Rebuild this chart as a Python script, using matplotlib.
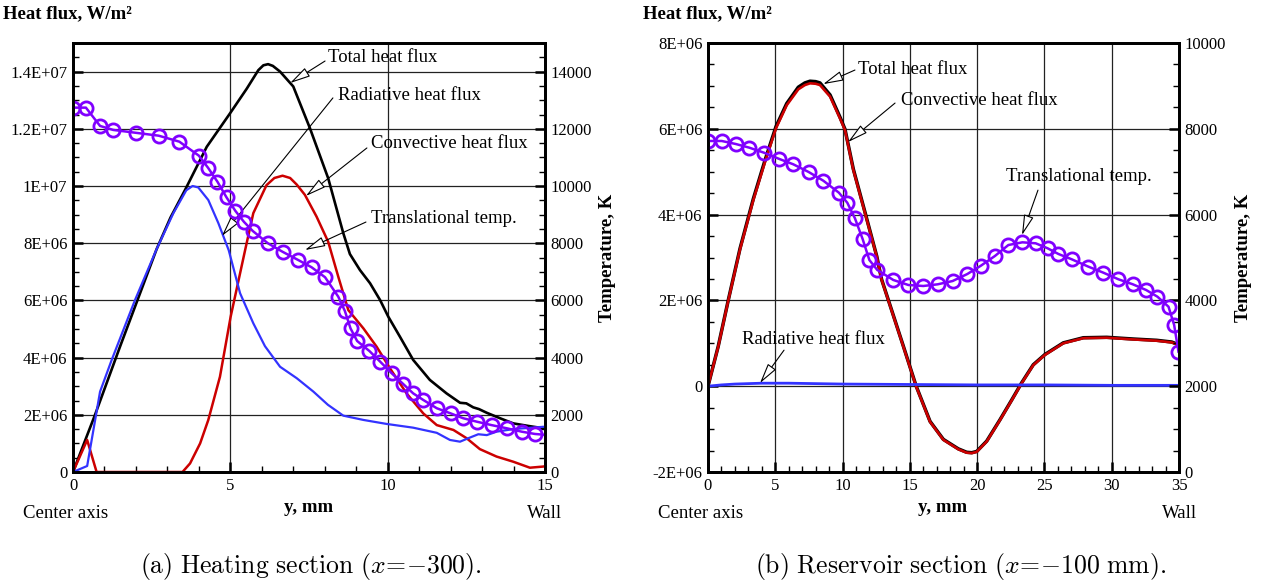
import matplotlib
matplotlib.use("Agg")
import matplotlib.pyplot as plt
from matplotlib.ticker import MultipleLocator

plt.rcParams['font.family'] = ['Liberation Serif', 'DejaVu Serif']
plt.rcParams['mathtext.fontset'] = 'cm'

# ---------------- (a) Heating section ----------------
a_total_y = [0, 0.7, 1.5, 2.66, 3.1, 3.56, 4.25, 4.99, 5.52, 5.89, 6.05, 6.2, 6.35, 6.58, 7.0,
             7.53, 8.11, 8.59, 8.8, 9.12, 9.44, 9.76, 10.02, 10.39, 10.81, 11.34, 11.87, 12.30,
             12.5, 12.72, 12.9, 13.15, 13.57, 13.99, 14.47, 14.94, 15.0]
a_total_q = [0, 2.0e6, 4.4e6, 7.8e6, 8.9e6, 9.86e6, 11.37e6, 12.54e6, 13.4e6, 14.05e6, 14.22e6,
             14.26e6, 14.2e6, 14.0e6, 13.48e6, 12.02e6, 10.27e6, 8.35e6, 7.62e6, 7.06e6, 6.6e6,
             6.01e6, 5.43e6, 4.73e6, 3.92e6, 3.22e6, 2.75e6, 2.42e6, 2.40e6, 2.26e6, 2.20e6,
             2.07e6, 1.88e6, 1.70e6, 1.61e6, 1.53e6, 1.52e6]

a_rad_y = [0, 0.45, 0.86, 1.23, 1.97, 2.66, 3.19, 3.6, 3.8, 3.98, 4.30, 4.62, 4.95, 5.31, 5.73,
           6.1, 6.58, 7.11, 7.64, 8.1, 8.59, 9.23, 9.97, 10.81, 11.56, 11.98, 12.30, 12.56,
           12.88, 13.15, 13.46, 13.99, 14.94, 15.0]
a_rad_q = [0, 0.21e6, 2.81e6, 3.92e6, 6.01e6, 7.8e6, 9.05e6, 9.85e6, 10.0e6, 9.95e6, 9.51e6,
           8.70e6, 7.75e6, 6.25e6, 5.2e6, 4.4e6, 3.68e6, 3.28e6, 2.81e6, 2.35e6, 1.97e6, 1.82e6,
           1.68e6, 1.55e6, 1.37e6, 1.12e6, 1.06e6, 1.18e6, 1.32e6, 1.29e6, 1.41e6, 1.50e6,
           1.58e6, 1.58e6]

a_conv_y = [0, 0.45, 0.75, 3.48, 3.72, 4.04, 4.30, 4.67, 5.01, 5.47, 5.73, 6.15, 6.4, 6.66,
            6.9, 7.11, 7.37, 7.74, 8.11, 8.43, 8.75, 9.23, 9.65, 10.07, 10.6, 11.13, 11.56,
            12.09, 12.51, 12.93, 13.46, 13.99, 14.52, 14.94, 15.0]
a_conv_q = [0, 1.12e6, 0, 0, 0.30e6, 1.0e6, 1.82e6, 3.33e6, 5.43e6, 7.76e6, 9.05e6, 10.03e6,
            10.28e6, 10.36e6, 10.28e6, 10.05e6, 9.69e6, 8.93e6, 8.05e6, 6.83e6, 5.66e6, 5.02e6,
            4.38e6, 3.63e6, 2.75e6, 2.05e6, 1.64e6, 1.47e6, 1.18e6, 0.80e6, 0.54e6, 0.36e6,
            0.15e6, 0.19e6, 0.2e6]

a_temp_y = [0.01, 0.41, 0.86, 1.28, 2.0, 2.72, 3.38, 4.0, 4.29, 4.59, 4.88, 5.16, 5.43, 5.71,
            6.19, 6.66, 7.16, 7.58, 8.01, 8.43, 8.64, 8.82, 9.03, 9.42, 9.76, 10.13, 10.50,
            10.81, 11.13, 11.56, 12.0, 12.40, 12.83, 13.3, 13.78, 14.26, 14.68, 15.0]
a_temp_T = [12740, 12740, 12100, 11960, 11860, 11760, 11550, 11060, 10640, 10150, 9600, 9130,
            8750, 8430, 8000, 7700, 7410, 7160, 6810, 6130, 5630, 5020, 4580, 4230, 3860, 3450,
            3070, 2750, 2520, 2230, 2050, 1880, 1760, 1640, 1530, 1410, 1330, 1300]

a_xticks = [0, 5, 10, 15]
a_yticks = [0, 2e6, 4e6, 6e6, 8e6, 1e7, 1.2e7, 1.4e7]
a_ytick_labels = ["0", "2E+06", "4E+06", "6E+06", "8E+06", "1E+07", "1.2E+07", "1.4E+07"]
a_tticks = [0, 2000, 4000, 6000, 8000, 10000, 12000, 14000]
a_ttick_labels = ["0", "2000", "4000", "6000", "8000", "10000", "12000", "14000"]

# ---------------- (b) Reservoir section ----------------
b_conv_y = [0, 0.76, 1.51, 2.38, 3.37, 4.24, 5.05, 5.85, 6.71, 7.2, 7.58, 8.0, 8.32, 9.07,
            9.81, 10.18, 10.8, 11.67, 12.54, 12.9, 13.4, 14.52, 15.46, 16.5, 17.49, 18.6,
            19.22, 19.6, 19.97, 20.71, 21.7, 22.57, 23.31, 24.17, 25.04, 26.4, 27.89, 29.63,
            31.61, 33.35, 34.46, 34.96, 35.0]
b_conv_q = [0, 0.92e6, 2.0e6, 3.19e6, 4.34e6, 5.23e6, 6.01e6, 6.55e6, 6.92e6, 7.02e6, 7.06e6,
            7.05e6, 7.02e6, 6.75e6, 6.24e6, 5.97e6, 5.04e6, 4.03e6, 3.02e6, 2.48e6, 2.0e6,
            0.92e6, 0, -0.83e6, -1.25e6, -1.47e6, -1.55e6, -1.56e6, -1.53e6, -1.29e6, -0.79e6,
            -0.33e6, 0.07e6, 0.49e6, 0.73e6, 1.0e6, 1.12e6, 1.13e6, 1.09e6, 1.06e6, 1.02e6,
            0.96e6, 0.95e6]

b_total_y = [0, 0.76, 1.51, 2.38, 3.37, 4.24, 5.05, 5.85, 6.71, 7.2, 7.58, 8.0, 8.32, 9.07,
             9.81, 10.18, 10.8, 11.67, 12.54, 12.9, 13.4, 14.52, 15.46, 16.5, 17.49, 18.6,
             19.22, 19.6, 19.97, 20.71, 21.7, 22.57, 23.31, 24.17, 25.04, 26.4, 27.89, 29.63,
             31.61, 33.35, 34.46, 34.96, 35.0]
b_total_q = [0, 0.93e6, 2.01e6, 3.21e6, 4.37e6, 5.27e6, 6.05e6, 6.59e6, 6.97e6, 7.07e6, 7.11e6,
             7.10e6, 7.07e6, 6.79e6, 6.27e6, 5.99e6, 5.06e6, 4.05e6, 3.03e6, 2.49e6, 2.01e6,
             0.93e6, 0.01e6, -0.82e6, -1.24e6, -1.46e6, -1.54e6, -1.55e6, -1.52e6, -1.28e6,
             -0.78e6, -0.32e6, 0.08e6, 0.50e6, 0.74e6, 1.01e6, 1.13e6, 1.14e6, 1.10e6, 1.07e6,
             1.03e6, 0.97e6, 0.96e6]

b_rad_y = [0, 1, 2, 3, 4, 5, 6, 8, 10, 15, 20, 25, 30, 35]
b_rad_q = [0, 0.03e6, 0.05e6, 0.06e6, 0.07e6, 0.07e6, 0.07e6, 0.06e6, 0.05e6, 0.04e6, 0.03e6,
           0.03e6, 0.02e6, 0.02e6]

b_temp_y = [0.02, 1.02, 2.06, 3.07, 4.16, 5.25, 6.34, 7.48, 8.57, 9.73, 10.35, 10.92, 11.49,
            11.99, 12.58, 13.77, 14.89, 16.0, 17.07, 18.18, 19.27, 20.28, 21.32, 22.32, 23.36,
            24.35, 25.24, 26.04, 27.03, 28.27, 29.38, 30.50, 31.57, 32.56, 33.40, 34.22, 34.64,
            34.96]
b_temp_T = [7716, 7716, 7646, 7560, 7443, 7303, 7172, 6993, 6790, 6510, 6277, 5913, 5431, 4942,
            4709, 4476, 4359, 4336, 4375, 4452, 4615, 4809, 5035, 5291, 5354, 5331, 5214, 5082,
            4958, 4786, 4646, 4492, 4375, 4242, 4086, 3853, 3427, 2805]

b_xticks = [0, 5, 10, 15, 20, 25, 30, 35]
b_yticks = [-2e6, 0, 2e6, 4e6, 6e6, 8e6]
b_ytick_labels = ["-2E+06", "0", "2E+06", "4E+06", "6E+06", "8E+06"]
b_tticks = [0, 2000, 4000, 6000, 8000, 10000]
b_ttick_labels = ["0", "2000", "4000", "6000", "8000", "10000"]

C_TOTAL = "black"
C_CONV = "#CC0000"
C_RAD = "#3333FF"
C_TEMP = "#8000FF"

W, H = 1275, 586
fig = plt.figure(figsize=(W / 100, H / 100), dpi=100)


def px_axes(x0, x1, y0, y1):
    return fig.add_axes([x0 / W, 1 - y1 / H, (x1 - x0) / W, (y1 - y0) / H])


def style_axes(ax, ax2):
    for a in (ax, ax2):
        for s in a.spines.values():
            s.set_linewidth(2.0)
            s.set_color("black")
    ax.tick_params(which="both", direction="in", top=False, right=False, left=True, bottom=True,
                   labelsize=12, pad=4)
    ax.tick_params(which="major", length=7, width=1.8)
    ax.tick_params(which="minor", length=4.5, width=1.0)
    ax2.tick_params(which="both", direction="in", left=False, right=True, top=False, bottom=False,
                    labelsize=12, pad=4)
    ax2.tick_params(which="major", length=7, width=1.8)
    ax2.tick_params(which="minor", length=4.5, width=1.0)
    ax.grid(True, which="major", color="#222222", linewidth=0.9)
    ax.set_axisbelow(True)


def arrow(ax, start, tip):
    ax.annotate("", xy=tip, xytext=start,
                arrowprops=dict(arrowstyle="-|>,head_length=0.9,head_width=0.22",
                                facecolor="white", edgecolor="black", lw=0.8,
                                shrinkA=0, shrinkB=0, mutation_scale=14),
                zorder=6)


ANN = 13.5

# ----- panel (a) -----
ax = px_axes(73, 545, 43, 472)
ax2 = ax.twinx()
ax.plot(a_total_y, a_total_q, color=C_TOTAL, lw=1.9, zorder=3)
ax.plot(a_conv_y, a_conv_q, color=C_CONV, lw=1.8, zorder=3)
ax.plot(a_rad_y, a_rad_q, color=C_RAD, lw=1.6, zorder=3)
ax2.plot(a_temp_y, a_temp_T, color=C_TEMP, lw=1.8, marker="o", markersize=9.5,
         markerfacecolor="none", markeredgewidth=2.0, markevery=list(range(len(a_temp_y) - 1)))
ax.set_xlim(0, 15)
ax.set_ylim(0, 1.5e7)
ax2.set_ylim(0, 15000)
ax.set_xticks(a_xticks)
ax.set_xticklabels([str(v) for v in a_xticks])
ax.set_yticks(a_yticks)
ax.set_yticklabels(a_ytick_labels)
ax2.set_yticks(a_tticks)
ax2.set_yticklabels(a_ttick_labels)
ax.xaxis.set_minor_locator(MultipleLocator(1))
ax.yaxis.set_minor_locator(MultipleLocator(5e5))
ax2.yaxis.set_minor_locator(MultipleLocator(500))
style_axes(ax, ax2)

ax.text(8.10, 14.51e6, "Total heat flux", fontsize=ANN, va="center", ha="left", zorder=6)
arrow(ax, (8.01, 14.37e6), (6.9, 13.6e6))
ax.text(8.42, 13.15e6, "Radiative heat flux", fontsize=ANN, va="center", ha="left", zorder=6)
arrow(ax, (8.26, 13.08e6), (4.73, 8.25e6))
ax.text(9.47, 11.47e6, "Convective heat flux", fontsize=ANN, va="center", ha="left", zorder=6)
arrow(ax, (9.34, 11.33e6), (7.4, 9.65e6))
ax.text(9.47, 8.85e6, "Translational temp.", fontsize=ANN, va="center", ha="left", zorder=6)
arrow(ax, (9.31, 8.74e6), (7.37, 7.76e6))

# ----- panel (b) -----
bx = px_axes(708, 1179, 43, 472)
bx2 = bx.twinx()
bx.plot(b_total_y, b_total_q, color=C_TOTAL, lw=2.5, zorder=3)
bx.plot(b_conv_y, b_conv_q, color=C_CONV, lw=1.9, zorder=3)
bx.plot(b_rad_y, b_rad_q, color=C_RAD, lw=2.0, zorder=3)
bx2.plot(b_temp_y, b_temp_T, color=C_TEMP, lw=1.8, marker="o", markersize=9.5,
         markerfacecolor="none", markeredgewidth=2.0)
bx.set_xlim(0, 35)
bx.set_ylim(-2e6, 8e6)
bx2.set_ylim(0, 10000)
bx.set_xticks(b_xticks)
bx.set_xticklabels([str(v) for v in b_xticks])
bx.set_yticks(b_yticks)
bx.set_yticklabels(b_ytick_labels)
bx2.set_yticks(b_tticks)
bx2.set_yticklabels(b_ttick_labels)
bx.xaxis.set_minor_locator(MultipleLocator(1))
bx.yaxis.set_minor_locator(MultipleLocator(5e5))
bx2.yaxis.set_minor_locator(MultipleLocator(500))
style_axes(bx, bx2)

bx.text(11.15, 7.39e6, "Total heat flux", fontsize=ANN, va="center", ha="left", zorder=6)
arrow(bx, (10.92, 7.37e6), (8.55, 7.04e6))
bx.text(14.34, 6.67e6, "Convective heat flux", fontsize=ANN, va="center", ha="left", zorder=6)
arrow(bx, (13.9, 6.60e6), (10.4, 5.69e6))
bx.text(22.14, 4.88e6, "Translational temp.", fontsize=ANN, va="center", ha="left", zorder=6)
arrow(bx, (24.52, 4.57e6), (23.33, 3.52e6))
bx.text(2.53, 1.10e6, "Radiative heat flux", fontsize=ANN, va="center", ha="left", zorder=6)
arrow(bx, (5.65, 0.84e6), (3.86, 0.07e6))

# ----- labels -----
def ftext(x, y, s, **kw):
    fig.text(x / W, 1 - y / H, s, **kw)

for x0 in (3, 643):
    ftext(x0, 14, "Heat flux, W/m²", fontsize=13.5, fontweight="bold", ha="left", va="center")
for xc in (608, 1243):
    ftext(xc, 258, "Temperature, K", fontsize=13.5, fontweight="bold", rotation=90,
          ha="center", va="center")
for xc in (309, 943):
    ftext(xc, 508, "y, mm", fontsize=13.5, fontweight="bold", ha="center", va="center")
ftext(23, 514, "Center axis", fontsize=13.5, ha="left", va="center")
ftext(658, 514, "Center axis", fontsize=13.5, ha="left", va="center")
ftext(562, 514, "Wall", fontsize=13.5, ha="right", va="center")
ftext(1197, 514, "Wall", fontsize=13.5, ha="right", va="center")

ftext(311, 567, r"$\mathrm{(a)\ Heating\ section\ (}x\!=\!{-}\mathrm{300).}$", fontsize=18.5,
      ha="center", va="center")
ftext(961, 567, r"$\mathrm{(b)\ Reservoir\ section\ (}x\!=\!{-}\mathrm{100\ mm).}$", fontsize=18.5,
      ha="center", va="center")

fig.savefig("out.png", dpi=100)
